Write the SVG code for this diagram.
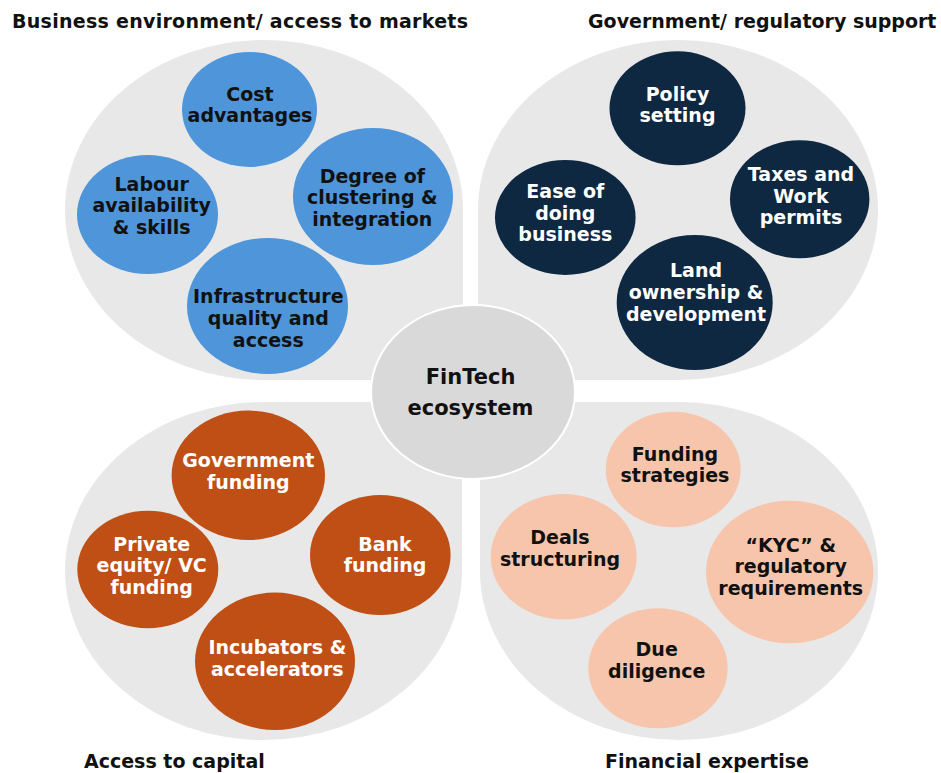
<svg xmlns="http://www.w3.org/2000/svg" width="941" height="773" viewBox="0 0 941 773">
  <style>
    .quad { fill: #e8e8e8; }
    .hub { fill: #d9d9d9; stroke: #ffffff; stroke-width: 2; }
    .t { font-family: "DejaVu Sans", "Liberation Sans", sans-serif; font-weight: bold; font-size: 19px; text-anchor: middle; }
    .title { font-family: "DejaVu Sans", "Liberation Sans", sans-serif; font-weight: bold; font-size: 19px; fill: #111111; }
    .hubtxt { font-size: 21px; fill: #111111; }
    .blue ellipse { fill: #4e95d9; }
    .blue text { fill: #111111; }
    .navy ellipse { fill: #0e2841; }
    .navy text { fill: #ffffff; }
    .rust ellipse { fill: #c04f15; }
    .rust text { fill: #ffffff; }
    .peach ellipse { fill: #f6c5ac; }
    .peach text { fill: #111111; }
  </style>

  <!-- Quadrant backgrounds: ellipses with the corner nearest the hub squared off -->
  <g id="quadrants">
    <path id="quad-business" class="quad" d="M264,40 A199,170 0 0 1 463,210 L463,380 L264,380 A199,170 0 0 1 65,210 A199,170 0 0 1 264,40 Z"/>
    <path id="quad-government" class="quad" d="M478,380 L478,210 A200,170 0 0 1 678,40 A200,170 0 0 1 878,210 A200,170 0 0 1 678,380 Z"/>
    <path id="quad-capital" class="quad" d="M462,402 L462,571 A198.5,169 0 0 1 263.5,740 A198.5,169 0 0 1 65,571 A198.5,169 0 0 1 263.5,402 Z"/>
    <path id="quad-expertise" class="quad" d="M480,402 L679,402 A199,169 0 0 1 878,571 A199,169 0 0 1 679,740 A199,169 0 0 1 480,571 Z"/>
  </g>

  <!-- Quadrant titles -->
  <g id="titles">
    <text class="title" x="12" y="28" textLength="456">Business environment/ access to markets</text>
    <text class="title" x="588" y="28">Government/ regulatory support</text>
    <text class="title" x="84" y="768">Access to capital</text>
    <text class="title" x="605" y="768">Financial expertise</text>
  </g>

  <g id="connectors"></g>

  <!-- Business environment / access to markets -->
  <g id="node-cost" class="blue">
    <ellipse cx="249.5" cy="109.5" rx="67.5" ry="57.5"/>
    <text class="t" x="250" y="100.7">Cost</text>
    <text class="t" x="250" y="122.3">advantages</text>
  </g>
  <g id="node-clustering" class="blue">
    <ellipse cx="373" cy="196.5" rx="80" ry="68.5"/>
    <text class="t" x="372.3" y="182.7">Degree of</text>
    <text class="t" x="372.3" y="204.2">clustering &amp;</text>
    <text class="t" x="372.3" y="225.8">integration</text>
  </g>
  <g id="node-labour" class="blue">
    <ellipse cx="147.5" cy="214.5" rx="70.5" ry="59.5"/>
    <text class="t" x="151.7" y="190.7">Labour</text>
    <text class="t" x="151.7" y="212.3">availability</text>
    <text class="t" x="151.7" y="234">&amp; skills</text>
  </g>
  <g id="node-infrastructure" class="blue">
    <ellipse cx="267.5" cy="306" rx="80.5" ry="68"/>
    <text class="t" x="268.3" y="303.3">Infrastructure</text>
    <text class="t" x="268.3" y="325">quality and</text>
    <text class="t" x="268.3" y="346.7">access</text>
  </g>

  <!-- Government / regulatory support -->
  <g id="node-policy" class="navy">
    <ellipse cx="677.5" cy="108.3" rx="68" ry="57"/>
    <text class="t" x="677.5" y="100.7">Policy</text>
    <text class="t" x="677.5" y="121.7">setting</text>
  </g>
  <g id="node-taxes" class="navy">
    <ellipse cx="799.7" cy="199.2" rx="69.7" ry="59"/>
    <text class="t" x="801" y="181">Taxes and</text>
    <text class="t" x="801" y="202.7">Work</text>
    <text class="t" x="801" y="224">permits</text>
  </g>
  <g id="node-ease" class="navy">
    <ellipse cx="565.3" cy="217.5" rx="70.3" ry="57.5"/>
    <text class="t" x="565.3" y="198.3">Ease of</text>
    <text class="t" x="565.3" y="220">doing</text>
    <text class="t" x="565.3" y="241.3">business</text>
  </g>
  <g id="node-land" class="navy">
    <ellipse cx="694.7" cy="302.5" rx="78" ry="67.5"/>
    <text class="t" x="696" y="277.3">Land</text>
    <text class="t" x="696" y="299">ownership &amp;</text>
    <text class="t" x="696" y="320.7">development</text>
  </g>

  <!-- Access to capital -->
  <g id="node-gov-funding" class="rust">
    <ellipse cx="248.3" cy="475.3" rx="76.7" ry="64.7"/>
    <text class="t" x="248.3" y="467.3">Government</text>
    <text class="t" x="248.3" y="489">funding</text>
  </g>
  <g id="node-private-equity" class="rust">
    <ellipse cx="147.8" cy="569.5" rx="70.5" ry="58.8"/>
    <text class="t" x="151.7" y="550.7">Private</text>
    <text class="t" x="151.7" y="572.3">equity/ VC</text>
    <text class="t" x="151.7" y="594">funding</text>
  </g>
  <g id="node-bank" class="rust">
    <ellipse cx="380.3" cy="555" rx="70.3" ry="60"/>
    <text class="t" x="385" y="550.7">Bank</text>
    <text class="t" x="385" y="572.3">funding</text>
  </g>
  <g id="node-incubators" class="rust">
    <ellipse cx="275" cy="661.3" rx="80" ry="68.7"/>
    <text class="t" x="277.3" y="654">Incubators &amp;</text>
    <text class="t" x="277.3" y="675.7">accelerators</text>
  </g>

  <!-- Financial expertise -->
  <g id="node-funding-strategies" class="peach">
    <ellipse cx="673.2" cy="469.5" rx="67.5" ry="57.8"/>
    <text class="t" x="675" y="460.7">Funding</text>
    <text class="t" x="675" y="481.7">strategies</text>
  </g>
  <g id="node-deals" class="peach">
    <ellipse cx="563.7" cy="556.7" rx="73" ry="62.7"/>
    <text class="t" x="560" y="544">Deals</text>
    <text class="t" x="560" y="566">structuring</text>
  </g>
  <g id="node-kyc" class="peach">
    <ellipse cx="789.7" cy="572" rx="83.7" ry="71.3"/>
    <text class="t" x="790.7" y="551.7">“KYC” &amp;</text>
    <text class="t" x="790.7" y="573.3">regulatory</text>
    <text class="t" x="790.7" y="595">requirements</text>
  </g>
  <g id="node-due-diligence" class="peach">
    <ellipse cx="658" cy="668.3" rx="69.7" ry="60"/>
    <text class="t" x="656.7" y="656">Due</text>
    <text class="t" x="656.7" y="677.7">diligence</text>
  </g>

  <!-- Central hub -->
  <g id="node-hub">
    <ellipse class="hub" cx="473" cy="392" rx="102" ry="87"/>
    <text class="t hubtxt" x="470.5" y="384">FinTech</text>
    <text class="t hubtxt" x="470.5" y="415">ecosystem</text>
  </g>
</svg>
